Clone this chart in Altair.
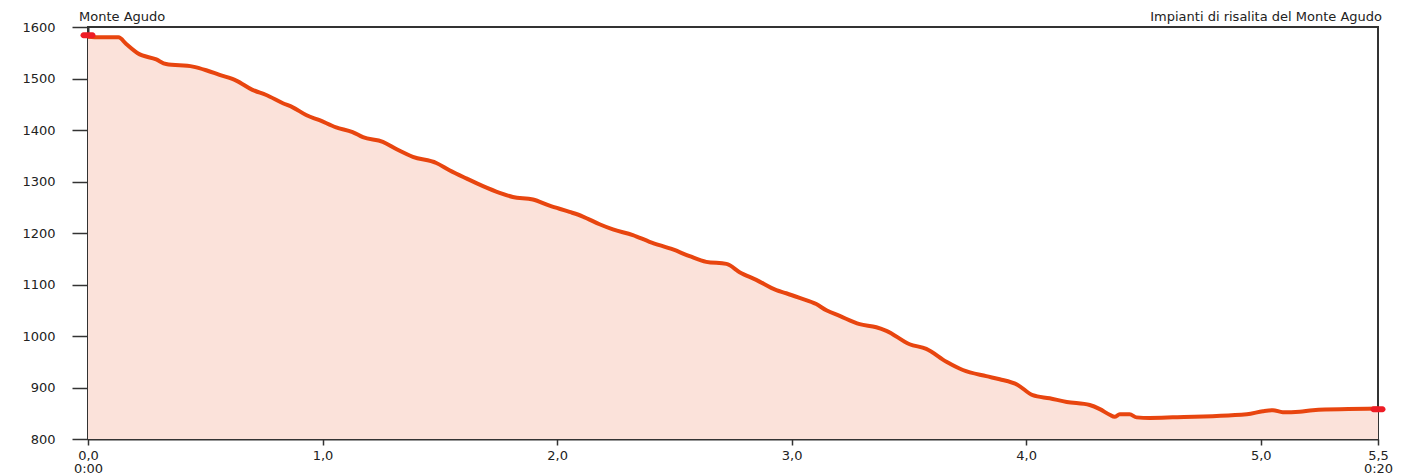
import altair as alt
import pandas as pd

km = [0.000, 0.049, 0.130, 0.163, 0.212, 0.291, 0.333, 0.447, 0.504, 0.561,
      0.632, 0.701, 0.760, 0.831, 0.873, 0.930, 0.987, 1.058, 1.128, 1.172,
      1.257, 1.314, 1.385, 1.485, 1.541, 1.613, 1.684, 1.755, 1.811, 1.897,
      1.968, 2.053, 2.110, 2.181, 2.238, 2.323, 2.394, 2.494, 2.565, 2.636,
      2.722, 2.778, 2.849, 2.935, 2.977, 3.034, 3.105, 3.148, 3.205, 3.290,
      3.361, 3.404, 3.503, 3.574, 3.660, 3.730, 3.830, 3.887, 3.964, 4.028,
      4.100, 4.173, 4.271, 4.314, 4.356, 4.377, 4.399, 4.441, 4.471, 4.527,
      4.625, 4.941, 5.009, 5.052, 5.094, 5.166, 5.222, 5.500]
elev = [1581, 1580, 1580, 1567, 1549, 1537, 1528, 1523, 1516, 1507,
        1496, 1478, 1468, 1452, 1444, 1429, 1419, 1405, 1396, 1386,
        1377, 1363, 1348, 1336, 1322, 1306, 1291, 1278, 1270, 1265,
        1253, 1241, 1232, 1217, 1207, 1196, 1183, 1168, 1155, 1144,
        1140, 1124, 1109, 1089, 1083, 1074, 1062, 1050, 1039, 1023,
        1017, 1010, 984, 975, 950, 934, 922, 916, 905, 885,
        879, 872, 866, 858, 847, 843, 848, 848, 842, 841,
        842, 848, 854, 856, 852, 853, 856, 859]

# start / end markers
marker_km = [0.0, 5.5]
marker_elev = [1584, 858]

# axis ticks and labels
y_ticks = [800, 900, 1000, 1100, 1200, 1300, 1400, 1500, 1600]
x_ticks = [0, 1, 2, 3, 4, 5, 5.5]
x_tick_labels = ["0,0", "1,0", "2,0", "3,0", "4,0", "5,0", "5,5"]
x_time_labels = ["0:00", "", "", "", "", "", "0:20"]

title_left = "Monte Agudo"
title_right = "Impianti di risalita del Monte Agudo"

FONT = "DejaVu Sans"
AX = "#333333"

# build label expression
expr = "''"
for v, l, t in reversed(list(zip(x_ticks, x_tick_labels, x_time_labels))):
    lab = f"['{l}','{t}']" if t else f"'{l}'"
    expr = f"datum.value == {v} ? {lab} : ({expr})"

df = pd.DataFrame({"km": km, "elev": elev})
mk = pd.DataFrame({"km": marker_km, "elev": marker_elev})

xs = alt.Scale(domain=[0, 5.5], nice=False, zero=False)
ys = alt.Scale(domain=[800, 1600], nice=False, zero=False)

xaxis = alt.Axis(values=x_ticks, labelExpr=expr, title=None, grid=False,
                 tickSize=6, tickWidth=1.5, tickColor=AX, domainColor=AX,
                 domainWidth=2, labelPadding=4, labelFontSize=13,
                 labelFont=FONT, labelColor="#222", labelFlush=False,
                 labelOverlap=False, labelLineHeight=13)
yaxis = alt.Axis(values=y_ticks, format="d", title=None, grid=False,
                 tickSize=16, tickWidth=1.5, tickColor=AX, domainColor=AX,
                 domainWidth=2, labelPadding=17, labelFontSize=13,
                 labelFont=FONT, labelColor="#222")

base = alt.Chart(df)
area = base.mark_area(color="#fbe2da", interpolate="monotone").encode(
    x=alt.X("km:Q", scale=xs, axis=xaxis),
    y=alt.Y("elev:Q", scale=ys, axis=yaxis),
    y2=alt.datum(800),
)
line = base.mark_line(color="#e8450f", strokeWidth=4,
                      interpolate="monotone").encode(
    x=alt.X("km:Q", scale=xs),
    y=alt.Y("elev:Q", scale=ys),
)
markers = alt.Chart(mk).mark_tick(orient="horizontal", size=15, thickness=6,
                                  color="#ee1c25", opacity=1,
                                  cornerRadius=3).encode(
    x=alt.X("km:Q", scale=xs),
    y=alt.Y("elev:Q", scale=ys),
)
tl = alt.Chart(pd.DataFrame({"t": [title_left]})).mark_text(
    align="left", baseline="alphabetic", font=FONT, fontSize=13,
    color="#222").encode(text="t:N", x=alt.value(-9), y=alt.value(-6))
tr = alt.Chart(pd.DataFrame({"t": [title_right]})).mark_text(
    align="right", baseline="alphabetic", font=FONT, fontSize=13,
    color="#222").encode(text="t:N", x=alt.value(1294), y=alt.value(-6))

chart = alt.layer(area, line, markers, tl, tr).properties(
    width=1290, height=412,
    autosize=alt.AutoSizeParams(type="none"),
    padding={"left": 80, "top": 19, "right": 21, "bottom": 35},
).configure_view(stroke=AX, strokeWidth=2)

chart.save("out.html", embed_options={"renderer": "svg", "actions": False})
